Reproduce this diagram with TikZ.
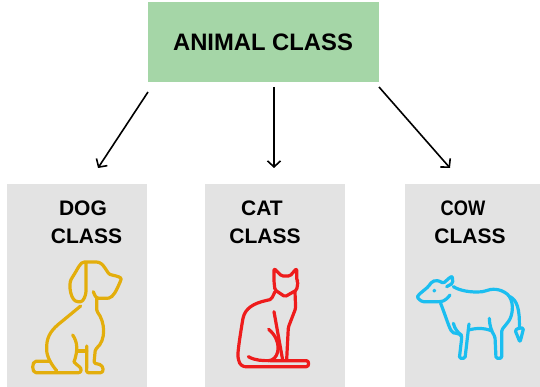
\documentclass[tikz,border=0pt]{standalone}
\usetikzlibrary{arrows.meta}
\usepackage{fontspec}
\setmainfont{Liberation Sans}
\definecolor{animalgreen}{HTML}{A5D6A7}
\definecolor{classgray}{HTML}{E3E3E3}
\definecolor{dogyellow}{HTML}{E3AE0C}
\definecolor{catred}{HTML}{EE1C1C}
\definecolor{cowblue}{HTML}{1BBEF0}
\begin{document}
\begin{tikzpicture}[
    x=1pt, y=-1pt,
    topbox/.style={rectangle, fill=animalgreen, minimum width=231pt, minimum height=80pt, inner sep=0pt},
    classbox/.style={rectangle, fill=classgray, minimum height=203pt, inner sep=0pt},
    classlabel/.style={font=\bfseries\fontsize{21}{21}\selectfont, inner sep=0pt},
    link/.style={draw=black, line width=1.6pt, -{Straight Barb[length=6pt,width=13pt,line width=1.6pt]}},
    icon/.style={line width=3.2pt, line join=round, line cap=round, rounded corners=1.5pt},
    iconfine/.style={x=0.3333pt, y=-0.3333pt}
]
    \useasboundingbox (0,0) rectangle (540,387);
    \node[topbox] (animal) at (263.5,42) {};
    \node[classlabel, font=\bfseries\fontsize{23.8}{23.8}\selectfont] (animaltext) at (263,42.5) {ANIMAL CLASS};
    \node[classbox, minimum width=140pt] (dog) at (77,285.5) {};
    \node[classbox, minimum width=140pt] (cat) at (275,285.5) {};
    \node[classbox, minimum width=135pt] (cow) at (472.5,285.5) {};

    \node[classlabel] (dogone) at (83,208.5) {DOG};
    \node[classlabel] (dogtwo) at (86.5,236) {CLASS};
    \node[classlabel] (catone) at (262,208.5) {CAT};
    \node[classlabel] (cattwo) at (265,236) {CLASS};
    \node[classlabel] (cowone) at (463,208.5) {\scalebox{0.87}[1]{COW}};
    \node[classlabel] (cowtwo) at (470,236) {CLASS};

    \coordinate (dogstart) at (148,92);
    \coordinate (catstart) at (274,87);
    \coordinate (cowstart) at (379,87);
    \coordinate (dogend) at (98,168);
    \coordinate (catend) at (274,168);
    \coordinate (cowend) at (450,168);
    \draw[link] (dogstart) -- (dogend);
    \draw[link] (catstart) -- (catend);
    \draw[link] (cowstart) -- (cowend);

    \begin{scope}[shift={(0pt,-240pt)}, iconfine, icon, draw=dogyellow]
        \draw (280,155) .. controls (285,170) and (290,175) .. (300,175) -- (322,175) .. controls (340,172) and (350,150) .. (362,122) .. controls (365,112) and (350,108) .. (335,105) .. controls (320,100) and (312,66) .. (285,66) -- (258,66) .. controls (240,66) and (235,85) .. (215,115) .. controls (205,135) and (212,185) .. (238,185) .. controls (250,185) and (258,165) .. (258,150) -- (258,66);
        \draw (242,198) -- (185,245) .. controls (160,265) and (140,285) .. (140,325) .. controls (140,350) and (155,375) .. (170,392);
        \draw (150,364) -- (112,364) .. controls (95,364) and (95,398) .. (112,398) -- (232,398) .. controls (245,398) and (245,385) .. (235,378) -- (222,366);
        \draw (218,285) .. controls (232,305) and (235,330) .. (222,366);
        \draw (290,174) -- (290,213) .. controls (315,245) and (320,300) .. (286,328) -- (282,370) -- (295,372) .. controls (312,378) and (312,398) .. (298,398) -- (268,398) .. controls (258,398) and (260,390) .. (260,380) -- (260,318);
        \draw (232,333) -- (260,333);
    \end{scope}

    \begin{scope}[shift={(200pt,-240pt)}, iconfine, icon, draw=catred]
        \draw (222,120) -- (222,85) -- (245,108) -- (270,108) -- (290,85) -- (290,120) -- (294,125) -- (290,150) -- (255,170) -- (225,150) -- (222,125) -- cycle;
        \draw (225,155) .. controls (218,170) and (215,178) .. (205,180) .. controls (160,190) and (135,205) .. (128,240) .. controls (120,290) and (112,340) .. (115,355) .. controls (118,375) and (130,380) .. (140,380) -- (315,380) .. controls (328,380) and (328,362) .. (315,362) -- (210,362);
        \draw (145,350) .. controls (165,362) and (190,362) .. (210,362) .. controls (240,350) and (245,300) .. (206,268);
        \draw (285,155) -- (287,205) -- (265,262) -- (260,360);
        \draw (222,215) -- (248,360);
    \end{scope}

    \begin{scope}[shift={(400pt,-250pt)}, iconfine, icon, draw=cowblue]
        \draw (150,135) .. controls (135,155) and (125,155) .. (110,155) -- (75,155) .. controls (65,155) and (50,145) .. (55,135) -- (85,110) .. controls (95,95) and (105,85) .. (130,100) -- (150,82) .. controls (158,78) and (158,92) .. (158,100) -- (140,110);
        \draw (160,110) .. controls (180,122) and (210,128) .. (250,125) .. controls (275,115) and (300,115) .. (325,135) .. controls (345,165) and (335,200) .. (325,215) -- (305,240) -- (305,325) -- (288,325) -- (285,260) .. controls (275,245) and (268,225) .. (268,205);
        \draw (205,240) .. controls (225,235) and (250,232) .. (276,243);
        \draw (207,222) -- (195,325) -- (178,325) -- (185,265) .. controls (185,255) and (175,250) .. (165,250) .. controls (150,245) and (145,220) .. (122,160);
        \draw (160,220) .. controls (165,240) and (175,248) .. (185,256);
        \draw (330,140) .. controls (350,150) and (360,175) .. (358,235);
        \draw (345,240) -- (358,234) -- (371,234) -- (360,277) -- cycle;
        \draw[line width=1.2pt] (103,122) circle (4);
    \end{scope}
\end{tikzpicture}
\end{document}
